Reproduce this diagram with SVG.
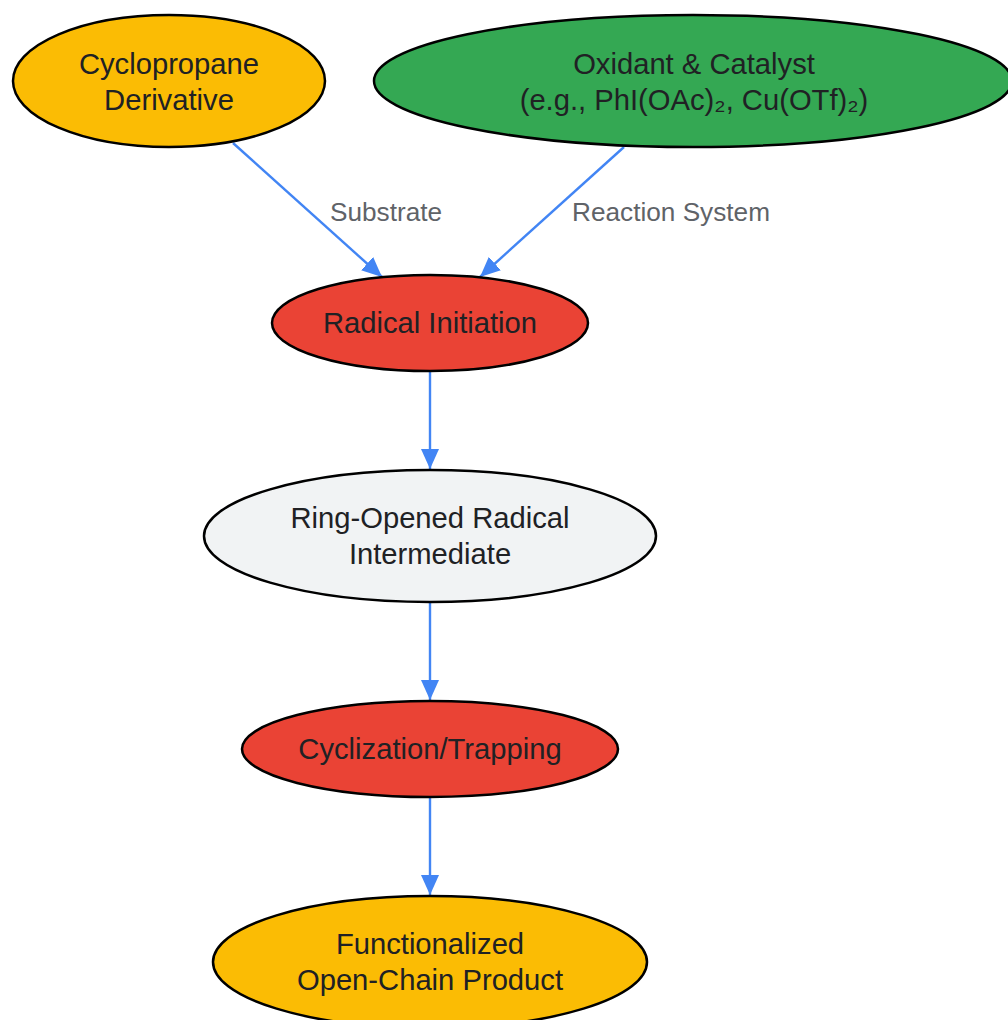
<svg xmlns="http://www.w3.org/2000/svg" width="1008" height="1020" viewBox="0 0 1008 1020">
<style>
.node ellipse{stroke:#000;stroke-width:2.5}
.node text{font-family:"Liberation Sans",Arial,"DejaVu Sans",sans-serif;font-size:29.2px;fill:#202124;text-anchor:middle}
.edge{stroke:#4285F4;stroke-width:2.4;fill:none;marker-end:url(#ah)}
.lbl{font-family:"Liberation Sans",Arial,sans-serif;font-size:26.2px;fill:#5f6368;text-anchor:middle}
</style>
<defs>
<marker id="ah" viewBox="0 0 20 18" refX="20" refY="9" markerWidth="20" markerHeight="18" markerUnits="userSpaceOnUse" orient="auto">
<path d="M0,0 L20,9 L0,18 z" fill="#4285F4"/>
</marker>
</defs>
<rect width="1008" height="1020" fill="#fff"/>
<g id="connectors">
<path class="edge" d="M233,143 L382,277"/>
<path class="edge" d="M624,147 L480,277"/>
<path class="edge" d="M430,372 L430,469"/>
<path class="edge" d="M430,603 L430,700"/>
<path class="edge" d="M430,798 L430,895"/>
<text class="lbl" x="386" y="221">Substrate</text>
<text class="lbl" x="671" y="221">Reaction System</text>
</g>
<g id="cyclopropane" class="node">
<ellipse cx="169" cy="81" rx="156" ry="66" fill="#FBBC04"/>
<text x="169" y="74">Cyclopropane</text>
<text x="169" y="110">Derivative</text>
</g>
<g id="oxidant" class="node">
<ellipse cx="693" cy="81" rx="319" ry="66" fill="#34A853"/>
<text x="694" y="74">Oxidant &amp; Catalyst</text>
<text x="694" y="110">(e.g., PhI(OAc)₂, Cu(OTf)₂)</text>
</g>
<g id="initiation" class="node">
<ellipse cx="430" cy="323" rx="158" ry="48" fill="#EA4335"/>
<text x="430" y="333">Radical Initiation</text>
</g>
<g id="intermediate" class="node">
<ellipse cx="430" cy="536" rx="226" ry="66" fill="#F1F3F4"/>
<text x="430" y="528">Ring-Opened Radical</text>
<text x="430" y="564">Intermediate</text>
</g>
<g id="cyclization" class="node">
<ellipse cx="430" cy="749" rx="188" ry="48" fill="#EA4335"/>
<text x="430" y="759">Cyclization/Trapping</text>
</g>
<g id="product" class="node">
<ellipse cx="430" cy="962" rx="217" ry="66" fill="#FBBC04"/>
<text x="430" y="954">Functionalized</text>
<text x="430" y="990">Open-Chain Product</text>
</g>
</svg>
